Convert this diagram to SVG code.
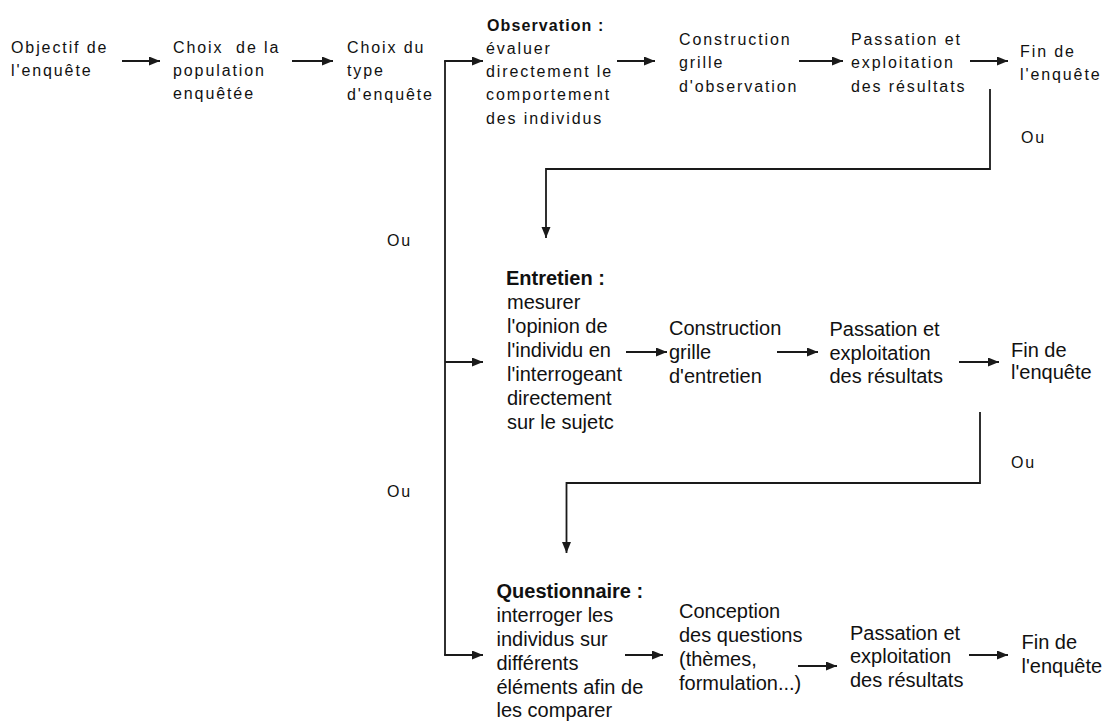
<svg xmlns="http://www.w3.org/2000/svg" width="1109" height="722" viewBox="0 0 1109 722">
<style>
.t{font-family:"Liberation Sans",Arial,sans-serif;font-size:16px;letter-spacing:1.9px;fill:#111}
.l{font-family:"Liberation Sans",Arial,sans-serif;font-size:20px;fill:#111}
.b{font-weight:bold}
.tb{font-family:"Liberation Sans",Arial,sans-serif;font-size:16px;letter-spacing:1.1px;font-weight:bold;fill:#111}
.c{stroke:#1a1a1a;stroke-width:1.8;fill:none}
.a{marker-end:url(#ah)}
</style>
<defs>
<marker id="ah" markerUnits="userSpaceOnUse" markerWidth="12" markerHeight="10" refX="11" refY="4.5" orient="auto">
<path d="M0,0 L11,4.5 L0,9 z" fill="#1a1a1a"/>
</marker>
</defs>
<rect width="1109" height="722" fill="#fff"/>

<g id="connectors">
<line class="c a" x1="122" y1="61" x2="160" y2="61"/>
<line class="c a" x1="292" y1="61" x2="333" y2="61"/>
<path class="c" d="M445,61 V655"/>
<line class="c a" x1="444.1" y1="61" x2="483" y2="61"/>
<line class="c a" x1="445" y1="362" x2="483" y2="362"/>
<line class="c a" x1="444.1" y1="655" x2="483" y2="655"/>
<line class="c a" x1="617" y1="61" x2="655" y2="61"/>
<line class="c a" x1="799" y1="61" x2="843" y2="61"/>
<line class="c a" x1="970" y1="61" x2="1008" y2="61"/>
<path class="c a" d="M990,89 V169 H546 V238"/>
<line class="c a" x1="626" y1="352" x2="667" y2="352"/>
<line class="c a" x1="777" y1="352" x2="818" y2="352"/>
<line class="c a" x1="959" y1="362" x2="999" y2="362"/>
<path class="c a" d="M980,412 V483 H566.5 V553"/>
<line class="c a" x1="625" y1="655" x2="663" y2="655"/>
<line class="c a" x1="798" y1="666" x2="837" y2="666"/>
<line class="c a" x1="969" y1="655" x2="1008" y2="655"/>
</g>

<g id="objectif">
<text class="t" x="11" y="53">Objectif de</text>
<text class="t" x="11" y="76">l'enquête</text>
</g>
<g id="population">
<text class="t" x="173" y="53" xml:space="preserve">Choix  de la</text>
<text class="t" x="173" y="76">population</text>
<text class="t" x="173" y="99">enquêtée</text>
</g>
<g id="type">
<text class="t" x="347" y="53">Choix du</text>
<text class="t" x="347" y="76">type</text>
<text class="t" x="347" y="100">d'enquête</text>
</g>
<g id="observation">
<text class="tb" x="487" y="31">Observation :</text>
<text class="t" x="486" y="54">évaluer</text>
<text class="t" x="486" y="77">directement le</text>
<text class="t" x="486" y="100">comportement</text>
<text class="t" x="486" y="124">des individus</text>
</g>
<g id="construction-obs">
<text class="t" x="679" y="45">Construction</text>
<text class="t" x="679" y="68">grille</text>
<text class="t" x="679" y="91.5">d'observation</text>
</g>
<g id="passation-obs">
<text class="t" x="851" y="45">Passation et</text>
<text class="t" x="851" y="68">exploitation</text>
<text class="t" x="851" y="91.5">des résultats</text>
</g>
<g id="fin-obs">
<text class="t" x="1020" y="57">Fin de</text>
<text class="t" x="1020" y="80">l'enquête</text>
</g>
<g id="ou-labels">
<text class="t" x="1021" y="143">Ou</text>
<text class="t" x="387" y="246">Ou</text>
<text class="t" x="387" y="497">Ou</text>
<text class="t" x="1011" y="468">Ou</text>
</g>
<g id="entretien">
<text class="l b" x="506" y="285">Entretien :</text>
<text class="l" x="507" y="309">mesurer</text>
<text class="l" x="507" y="333">l'opinion de</text>
<text class="l" x="507" y="357">l'individu en</text>
<text class="l" x="507" y="381">l'interrogeant</text>
<text class="l" x="507" y="405">directement</text>
<text class="l" x="507" y="429">sur le sujetc</text>
</g>
<g id="construction-ent">
<text class="l" x="669" y="335">Construction</text>
<text class="l" x="669" y="359">grille</text>
<text class="l" x="669" y="383">d'entretien</text>
</g>
<g id="passation-ent">
<text class="l" x="829.5" y="336">Passation et</text>
<text class="l" x="829.5" y="360">exploitation</text>
<text class="l" x="829.5" y="383">des résultats</text>
</g>
<g id="fin-ent">
<text class="l" x="1011" y="357">Fin de</text>
<text class="l" x="1011" y="379">l'enquête</text>
</g>
<g id="questionnaire">
<text class="l b" x="496.5" y="598">Questionnaire :</text>
<text class="l" x="496.5" y="622">interroger les</text>
<text class="l" x="496.5" y="646">individus sur</text>
<text class="l" x="496.5" y="670">différents</text>
<text class="l" x="496.5" y="694">éléments afin de</text>
<text class="l" x="496.5" y="717">les comparer</text>
</g>
<g id="conception">
<text class="l" x="679" y="618">Conception</text>
<text class="l" x="679" y="642">des questions</text>
<text class="l" x="679" y="666">(thèmes,</text>
<text class="l" x="679" y="690">formulation...)</text>
</g>
<g id="passation-q">
<text class="l" x="850" y="640">Passation et</text>
<text class="l" x="850" y="663">exploitation</text>
<text class="l" x="850" y="687">des résultats</text>
</g>
<g id="fin-q">
<text class="l" x="1021.5" y="649">Fin de</text>
<text class="l" x="1021.5" y="673">l'enquête</text>
</g>
</svg>
